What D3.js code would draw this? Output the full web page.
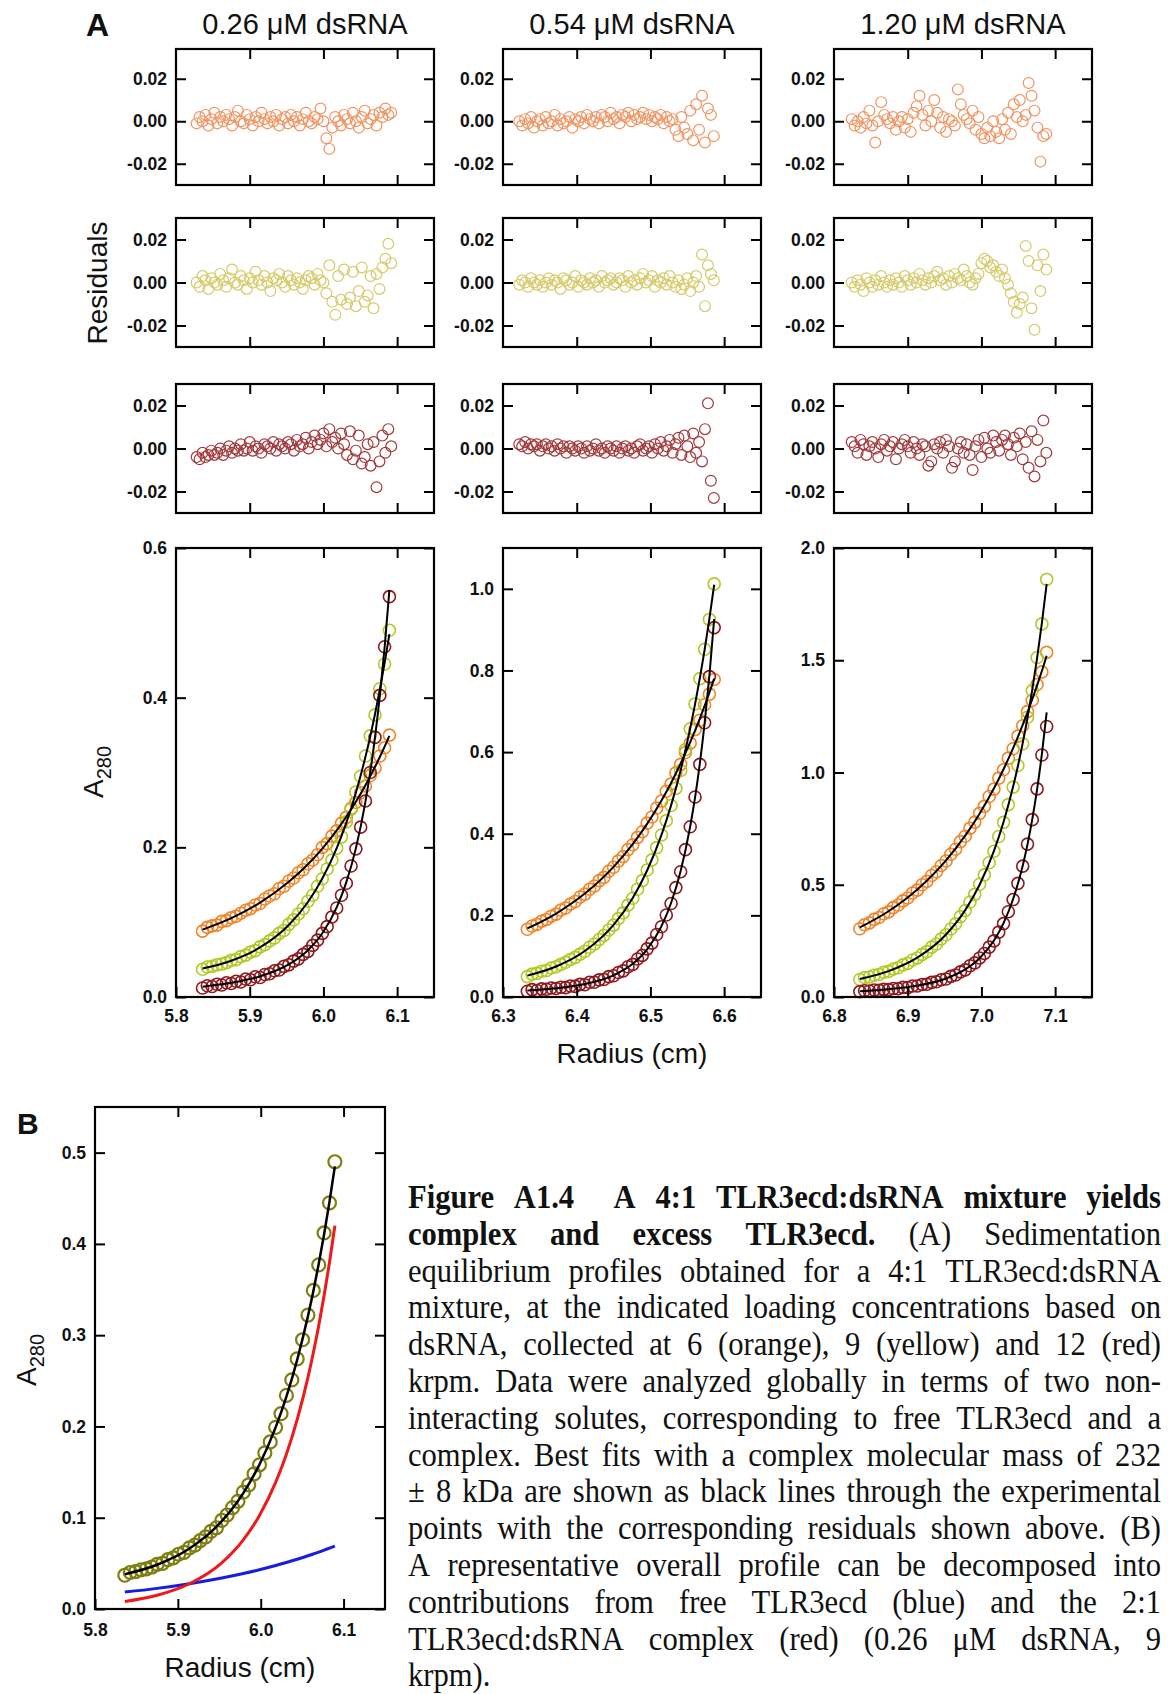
<!DOCTYPE html>
<html>
<head>
<meta charset="utf-8">
<script src="https://cdn.jsdelivr.net/npm/d3@7"></script>
<style>
  body { margin: 0; background: #fff; }
  svg text { font-family: "Liberation Sans", Arial, sans-serif; }
</style>
</head>
<body>
<svg id="fig" width="1169" height="1694"></svg>
<script>
// ── Data ─────────────────────────────────────────────────────────────────────
// Sedimentation equilibrium, 4:1 TLR3ecd:dsRNA. Three loading concentrations,
// three speeds each (6, 9, 12 krpm). Radii are start radius + offset (cm).

const concLabels = ['0.26 \u03bcM dsRNA', '0.54 \u03bcM dsRNA', '1.20 \u03bcM dsRNA'];
const speedNames = ['6 krpm', '9 krpm', '12 krpm'];
const xDomains   = [[5.8, 6.15], [6.3, 6.65], [6.8, 7.15]];
const xLabelTicks = [[5.8, 5.9, 6.0, 6.1], [6.3, 6.4, 6.5, 6.6], [6.8, 6.9, 7.0, 7.1]];
const xInnerTicks = [[5.9, 6.0, 6.1], [6.4, 6.5, 6.6], [6.9, 7.0, 7.1]];
const yMax   = [0.6, 1.1, 2.0];
const yTicks = [[0, 0.2, 0.4, 0.6], [0, 0.2, 0.4, 0.6, 0.8, 1.0], [0, 0.5, 1.0, 1.5, 2.0]];
const residTicks = [-0.02, 0, 0.02];
const residDomains = [[-0.03, 0.034], [-0.03, 0.03], [-0.03, 0.03]];

const profileStart = [5.836, 6.333, 6.835];
const profileOffset = [0, 0.0065, 0.013, 0.0195, 0.026, 0.0325, 0.039, 0.0455, 0.052, 0.0585,
  0.065, 0.0715, 0.078, 0.0845, 0.091, 0.0975, 0.104, 0.1105, 0.117, 0.1235,
  0.13, 0.1365, 0.143, 0.1495, 0.156, 0.1625, 0.169, 0.1755, 0.182, 0.1885,
  0.195, 0.2015, 0.208, 0.2145, 0.221, 0.2275, 0.234, 0.2405, 0.247, 0.2535];
const fitOffset = [0, 0.039, 0.078, 0.117, 0.143, 0.1625, 0.182, 0.195, 0.208, 0.221,
  0.2275, 0.234, 0.2405, 0.247, 0.2535];
const residStart = [5.828, 6.322, 6.824];
const residOffset = [0, .004, .008, .012, .016, .02, .024, .028, .032, .036, .04, .044, .048, .052,
  .056, .06, .064, .068, .072, .076, .08, .084, .088, .092, .096, .1, .104, .108, .112, .116, .12,
  .124, .128, .132, .136, .14, .144, .148, .152, .156, .16, .164, .168, .172, .176, .18, .184, .188,
  .192, .196, .2, .204, .208, .212, .216, .22, .224, .228, .232, .236, .24, .244, .248, .252, .256,
  .26, .264];

// A280 data points
const abs026_6k  = [0.088, 0.093, 0.095, 0.096, 0.101, 0.102, 0.106, 0.108, 0.112, 0.116, 0.118, 0.123, 0.125, 0.131, 0.135, 0.138, 0.145, 0.148, 0.155, 0.159, 0.166, 0.170, 0.178, 0.183, 0.190, 0.200, 0.205, 0.215, 0.222, 0.232, 0.240, 0.252, 0.260, 0.273, 0.282, 0.296, 0.306, 0.322, 0.333, 0.350];
const abs026_9k  = [0.037, 0.040, 0.041, 0.043, 0.044, 0.046, 0.049, 0.050, 0.054, 0.056, 0.060, 0.062, 0.067, 0.070, 0.075, 0.079, 0.085, 0.089, 0.097, 0.103, 0.111, 0.118, 0.128, 0.136, 0.148, 0.158, 0.171, 0.183, 0.199, 0.214, 0.234, 0.251, 0.274, 0.295, 0.322, 0.349, 0.377, 0.412, 0.445, 0.490];
const abs026_12k = [0.012, 0.015, 0.014, 0.017, 0.016, 0.019, 0.018, 0.021, 0.020, 0.024, 0.023, 0.027, 0.026, 0.030, 0.031, 0.035, 0.036, 0.041, 0.043, 0.048, 0.051, 0.057, 0.061, 0.069, 0.076, 0.085, 0.094, 0.107, 0.119, 0.136, 0.152, 0.175, 0.198, 0.227, 0.262, 0.300, 0.347, 0.403, 0.468, 0.535];
const abs054_6k  = [0.166, 0.174, 0.178, 0.186, 0.190, 0.198, 0.203, 0.213, 0.218, 0.228, 0.234, 0.245, 0.252, 0.264, 0.272, 0.285, 0.293, 0.308, 0.318, 0.333, 0.344, 0.361, 0.373, 0.391, 0.405, 0.426, 0.441, 0.463, 0.480, 0.504, 0.522, 0.549, 0.570, 0.599, 0.622, 0.655, 0.678, 0.716, 0.742, 0.778];
const abs054_9k  = [0.050, 0.056, 0.058, 0.063, 0.065, 0.071, 0.074, 0.080, 0.085, 0.092, 0.097, 0.105, 0.112, 0.122, 0.130, 0.141, 0.151, 0.164, 0.176, 0.192, 0.206, 0.225, 0.242, 0.264, 0.285, 0.311, 0.336, 0.366, 0.397, 0.432, 0.469, 0.511, 0.555, 0.606, 0.657, 0.718, 0.780, 0.852, 0.925, 1.012];
const abs054_12k = [0.014, 0.018, 0.016, 0.020, 0.019, 0.022, 0.021, 0.024, 0.023, 0.027, 0.026, 0.031, 0.030, 0.036, 0.036, 0.042, 0.043, 0.050, 0.052, 0.060, 0.064, 0.074, 0.080, 0.093, 0.102, 0.118, 0.132, 0.153, 0.172, 0.201, 0.229, 0.268, 0.307, 0.361, 0.417, 0.490, 0.570, 0.672, 0.785, 0.905];
const abs120_6k  = [0.304, 0.322, 0.330, 0.346, 0.354, 0.371, 0.379, 0.398, 0.410, 0.428, 0.441, 0.463, 0.476, 0.500, 0.515, 0.541, 0.558, 0.586, 0.606, 0.636, 0.658, 0.692, 0.716, 0.752, 0.779, 0.818, 0.849, 0.893, 0.926, 0.975, 1.012, 1.064, 1.106, 1.162, 1.208, 1.271, 1.322, 1.392, 1.448, 1.535];
const abs120_9k  = [0.078, 0.087, 0.089, 0.097, 0.100, 0.110, 0.114, 0.125, 0.130, 0.143, 0.150, 0.165, 0.174, 0.190, 0.202, 0.222, 0.236, 0.259, 0.277, 0.303, 0.326, 0.358, 0.385, 0.423, 0.457, 0.502, 0.544, 0.598, 0.649, 0.715, 0.778, 0.857, 0.935, 1.031, 1.128, 1.246, 1.365, 1.512, 1.662, 1.860];
const abs120_12k = [0.024, 0.028, 0.027, 0.031, 0.030, 0.034, 0.033, 0.038, 0.037, 0.043, 0.042, 0.049, 0.049, 0.056, 0.057, 0.065, 0.068, 0.077, 0.080, 0.092, 0.098, 0.112, 0.121, 0.139, 0.152, 0.174, 0.194, 0.222, 0.250, 0.289, 0.327, 0.380, 0.434, 0.506, 0.583, 0.681, 0.790, 0.927, 1.078, 1.205];

// global fits (black lines), at fitOffset
const fit026_6k  = [0.0900, 0.1054, 0.1261, 0.1539, 0.1774, 0.1984, 0.2226, 0.2408, 0.2610, 0.2831, 0.2950, 0.3076, 0.3207, 0.3345, 0.3490];
const fit026_9k  = [0.0381, 0.0485, 0.0662, 0.0962, 0.1270, 0.1583, 0.1990, 0.2327, 0.2730, 0.3209, 0.3482, 0.3781, 0.4106, 0.4462, 0.4850];
const fit026_12k = [0.0138, 0.0189, 0.0276, 0.0435, 0.0625, 0.0851, 0.1197, 0.1531, 0.1986, 0.2611, 0.3007, 0.3473, 0.4023, 0.4671, 0.5436];
const fit054_6k  = [0.1679, 0.2045, 0.2534, 0.3189, 0.3746, 0.4241, 0.4813, 0.5244, 0.5720, 0.6244, 0.6525, 0.6821, 0.7132, 0.7458, 0.7800];
const fit054_9k  = [0.0523, 0.0747, 0.1127, 0.1768, 0.2428, 0.3099, 0.3971, 0.4695, 0.5557, 0.6585, 0.7170, 0.7809, 0.8506, 0.9268, 1.0100];
const fit054_12k = [0.0161, 0.0216, 0.0318, 0.0532, 0.0813, 0.1168, 0.1737, 0.2303, 0.3088, 0.4184, 0.4885, 0.5718, 0.6704, 0.7873, 0.9260];
const fit120_6k  = [0.3099, 0.3821, 0.4789, 0.6085, 0.7186, 0.8163, 0.9295, 1.0147, 1.1088, 1.2123, 1.2679, 1.3264, 1.3878, 1.4523, 1.5200];
const fit120_9k  = [0.0803, 0.1153, 0.1752, 0.2783, 0.3869, 0.5000, 0.6510, 0.7798, 0.9373, 1.1307, 1.2437, 1.3694, 1.5093, 1.6656, 1.8400];
const fit120_12k = [0.0256, 0.0346, 0.0507, 0.0824, 0.1229, 0.1728, 0.2517, 0.3292, 0.4363, 0.5849, 0.6798, 0.7921, 0.9247, 1.0818, 1.2680];

// panel B components (0.26 uM, 9 krpm), at fitOffset
const bComplex = [0.0083, 0.0151, 0.0277, 0.0506, 0.0758, 0.1025, 0.1387, 0.1696, 0.2075, 0.2537, 0.2807, 0.3105, 0.3434, 0.3797, 0.4200];
const bFree    = [0.0185, 0.0226, 0.0277, 0.0339, 0.0388, 0.0430, 0.0476, 0.0509, 0.0545, 0.0583, 0.0603, 0.0623, 0.0645, 0.0667, 0.0690];

// residuals, in units of 0.001 A280, at residOffset
const res026_6k  = [-1,2,0,3,-2,1,4,-1,2,0, 3,1,-2,2,5,0,-1,3,1,-2, 2,0,4,1,-1,2,0,3,-2,1, 2,-1,3,0,2,-2,1,4,0,-1, 2,1,6,0,-8,-13,-3,2, 0,-2,3,1,-1,4,0,-3,2,5,-1,1,3,-2,4,2,6,3,4];
const res026_9k  = [0,-2,3,1,-3,2,0,-1,4,1, -2,2,6,0,-1,3,1,-3,2,0, 5,1,-1,3,0,-4,2,1,4,0, -2,3,1,-1,2,0,-3,1,3,2, -1,4,1,0, -5,8,-9,-15,3,-8,6,-10,-7,5,-11,-4,7,-9,-6,3,-12,4,-3,7,11,18,9];
const res026_12k = [-4,-5,-2,-4,-3,-1,-3,-2,0,-3, -1,1,-2,0,-1,2,-1,0,3,-1, 1,0,-2,2,1,0,3,-1,2,1, 0,3,2,-1,4,1,2,5,0,3, 6,2,4,7,1,9,3,5,0,7, 2,-3,8,-5,-1,6,-7,-4,2,-8,3,-18,-6,6,-2,9,1];
const res054_6k  = [0,-2,1,-1,2,-3,0,1,-2,2, -1,0,3,-2,1,-1,0,2,-3,1, 0,2,-1,3,1,0,2,-1,3,2, 0,4,1,2,-1,3,2,4,0,3, 1,2,4,1,3,0,2,1,3,-1, 2,0,1,-4,-7,2,-3,-6,5,-9, 8,-4,12,-10,6,3,-7];
const res054_9k  = [-1,1,0,-2,2,0,-1,1,-2,0, 2,-1,1,0,-3,2,1,-1,0,3, -2,1,0,-1,2,0,1,-2,3,0, 1,2,-1,0,2,1,-2,3,0,1, -1,2,4,0,1,3,-2,1,0,2, -1,3,0,-2,1,-3,-1,2,-4,0, 3,-2,13,-11,8,4,1];
const res054_12k = [2,1,3,0,2,1,2,-1,1,2, 0,1,-1,2,0,1,-2,1,0,-1, 1,0,-2,1,-1,0,2,-1,0,-2, 1,0,-1,1,-2,0,1,-1,0,-2, 1,2,-1,0,1,-2,2,0,3,-1, 1,4,-2,2,5,-3,6,1,-4,7, -2,3,-6,9,21,-15,-23];
const res120_6k  = [1,-2,0,-3,2,-1,5,-2,-10,0, 9,3,1,-1,2,-4,0,2,-3,1, -5,4,7,12,3,-2,5,0,10,4, -3,2,-5,1,0,-2,15,8,3,1, -1,5,-4,2,-6,-8,-3,-7,0,-5, -8,1,-4,4,-6,8,2,10,0,3, 18,12,5,-3,-19,-7,-6];
const res120_9k  = [0,-2,1,-1,-4,2,0,-2,1,-1, 3,0,-2,1,-1,2,0,-2,3,1, -1,2,0,4,1,-1, 2,0,3,5,1,2,-1,3,0,4,2,1,6,3,0,-1,2,4, 9,11,10,7,8,5,3,6,2,-1, -5,-9,-14,-10,-7,17,10,-12,-22,8,-4,13,6];
const res120_12k = [3,1,-2,4,2,-3,1,3,0,-4, 2,4,-1,1,3,-5,0,2,4,1, -2,3,0,-3,2,1,-8,-6,2,0, 3,-2,4,1,-9,-6,0,3,-2,2, -3,-10,1,4,-4,5,0,-2,6,3, -1,4,6,2,-3,5,1,7,-5,3, -9,8,-13,4,-6,13,-2];

const captionLines = [
  'Figure A1.4  A 4:1 TLR3ecd:dsRNA mixture yields',
  'complex and excess TLR3ecd. (A) Sedimentation',
  'equilibrium profiles obtained for a 4:1 TLR3ecd:dsRNA',
  'mixture, at the indicated loading concentrations based on',
  'dsRNA, collected at 6 (orange), 9 (yellow) and 12 (red)',
  'krpm. Data were analyzed globally in terms of two non-',
  'interacting solutes, corresponding to free TLR3ecd and a',
  'complex. Best fits with a complex molecular mass of 232',
  '\u00b1 8 kDa are shown as black lines through the experimental',
  'points with the corresponding residuals shown above. (B)',
  'A representative overall profile can be decomposed into',
  'contributions from free TLR3ecd (blue) and the 2:1',
  'TLR3ecd:dsRNA complex (red) (0.26 \u03bcM dsRNA, 9',
  'krpm).'
];
const captionBold = [8, 4, 0, 0, 0, 0, 0, 0, 0, 0, 0, 0, 0, 0];

// ── Styling / layout ────────────────────────────────────────────────────────
const mainColor  = ['#f0862a', '#b3c925', '#8c1a1e'];
const residColor = ['#f09462', '#d6ca6a', '#a23a3c'];
const colX = [176, 503, 834], plotW = 258;
const residTop = [49, 218, 384], residBottom = [185, 347, 513];
const mainTop = 548, mainH = 449;

const cols = [
  { abs: [abs026_6k, abs026_9k, abs026_12k], fit: [fit026_6k, fit026_9k, fit026_12k], res: [res026_6k, res026_9k, res026_12k] },
  { abs: [abs054_6k, abs054_9k, abs054_12k], fit: [fit054_6k, fit054_9k, fit054_12k], res: [res054_6k, res054_9k, res054_12k] },
  { abs: [abs120_6k, abs120_9k, abs120_12k], fit: [fit120_6k, fit120_9k, fit120_12k], res: [res120_6k, res120_9k, res120_12k] }
];

const svg = d3.select('#fig');

// box with inward ticks on all four sides
function drawFrame(g, x, y, o) {
  const [x0, x1] = x.range(), [y0, y1] = y.range();
  const axes = g.append('g');
  axes.append('g').attr('transform', `translate(${x0},0)`)
    .call(d3.axisLeft(y).tickValues(o.yTicks).tickSizeInner(-10).tickSizeOuter(0)
      .tickPadding(9).tickFormat(o.yFmt));
  axes.append('g').attr('transform', `translate(${x1},0)`)
    .call(d3.axisRight(y).tickValues(o.yTicks).tickSizeInner(-10).tickSizeOuter(0).tickFormat(''));
  axes.append('g').attr('transform', `translate(0,${y1})`)
    .call(d3.axisTop(x).tickValues(o.xInner).tickSizeInner(-10).tickSizeOuter(0).tickFormat(''));
  axes.append('g').attr('transform', `translate(0,${y0})`)
    .call(d3.axisBottom(x).tickValues(o.xLabels || o.xInner).tickSizeInner(-10).tickSizeOuter(0)
      .tickPadding(o.xPad || 13).tickFormat(o.xFmt || ''));
  axes.selectAll('.domain').remove();
  axes.selectAll('.tick line').attr('stroke', '#000').attr('stroke-width', 2);
  axes.selectAll('g').attr('font-size', 17.5).attr('font-weight', 'bold')
    .attr('font-family', '"Liberation Sans", Arial, sans-serif');
  axes.selectAll('.tick text').attr('fill', '#111');
  g.append('rect')
    .attr('x', x0).attr('y', y1).attr('width', x1 - x0).attr('height', y0 - y1)
    .attr('fill', 'none').attr('stroke', '#000').attr('stroke-width', 2.2);
}

function circles(g, pts, x, y, color, r, sw) {
  g.append('g').selectAll('circle').data(pts).join('circle')
    .attr('cx', d => x(d.r)).attr('cy', d => y(d.v)).attr('r', r)
    .attr('fill', 'none').attr('stroke', color).attr('stroke-width', sw);
}

function fitLine(g, pts, x, y, color, w) {
  g.append('path').datum(pts)
    .attr('d', d3.line().x(d => x(d.r)).y(d => y(d.v)).curve(d3.curveMonotoneX))
    .attr('fill', 'none').attr('stroke', color).attr('stroke-width', w);
}

const fmt1 = d => d.toFixed(1);
const fmt2 = d => d.toFixed(2);

// ── Panel A ───────────────────────────────────────────────────────────────
cols.forEach((col, c) => {
  const x = d3.scaleLinear().domain(xDomains[c]).range([colX[c], colX[c] + plotW]);

  svg.append('text')
    .attr('x', colX[c] + plotW / 2).attr('y', 34)
    .attr('text-anchor', 'middle').attr('font-size', 29).attr('fill', '#111')
    .text(concLabels[c]);

  // residual rows, one per speed
  col.res.forEach((res, s) => {
    const y = d3.scaleLinear().domain(residDomains[s]).range([residBottom[s], residTop[s]]);
    const g = svg.append('g').attr('class', 'resid ' + speedNames[s]);
    const pts = res.map((v, i) => ({ r: residStart[c] + residOffset[i], v: v / 1000 }));
    circles(g, pts, x, y, residColor[s], 5.4, 1.2);
    drawFrame(g, x, y, { yTicks: residTicks, yFmt: fmt2, xInner: xInnerTicks[c] });
  });

  // overall profiles
  const y = d3.scaleLinear().domain([0, yMax[c]]).range([mainTop + mainH, mainTop]);
  const g = svg.append('g').attr('class', 'profile');
  col.abs.forEach((vals, s) => {
    const pts = vals.map((v, i) => ({ r: profileStart[c] + profileOffset[i], v }));
    circles(g, pts, x, y, mainColor[s], 6, 1.6);
  });
  col.fit.forEach(vals => {
    const pts = vals.map((v, i) => ({ r: profileStart[c] + fitOffset[i], v }));
    fitLine(g, pts, x, y, '#000', 2);
  });
  drawFrame(g, x, y, {
    yTicks: yTicks[c], yFmt: fmt1, xInner: xInnerTicks[c],
    xLabels: xLabelTicks[c], xFmt: fmt1, xPad: 13
  });
});

svg.append('text').attr('x', 86).attr('y', 36)
  .attr('font-size', 32).attr('font-weight', 'bold').attr('fill', '#111').text('A');

svg.append('text').attr('transform', 'translate(107,283) rotate(-90)')
  .attr('text-anchor', 'middle').attr('font-size', 28).attr('fill', '#111').text('Residuals');

function a280Label(tx, ty) {
  const t = svg.append('text').attr('transform', `translate(${tx},${ty}) rotate(-90)`)
    .attr('text-anchor', 'middle').attr('font-size', 28).attr('fill', '#111');
  t.append('tspan').text('A');
  t.append('tspan').attr('font-size', 20).attr('dy', 8).text('280');
}
a280Label(103, 772);

svg.append('text').attr('x', colX[1] + plotW / 2).attr('y', 1063)
  .attr('text-anchor', 'middle').attr('font-size', 28).attr('fill', '#111').text('Radius (cm)');

// ── Panel B ───────────────────────────────────────────────────────────────
{
  const x = d3.scaleLinear().domain([5.8, 6.15]).range([95, 385]);
  const y = d3.scaleLinear().domain([0, 0.55]).range([1609, 1107]);
  const g = svg.append('g').attr('class', 'panel-b');
  const atFit = arr => arr.map((v, i) => ({ r: profileStart[0] + fitOffset[i], v }));
  fitLine(g, atFit(bFree), x, y, '#1a1ae0', 3);
  fitLine(g, atFit(bComplex), x, y, '#ec1a1a', 3);
  circles(g, abs026_9k.map((v, i) => ({ r: profileStart[0] + profileOffset[i], v })), x, y, '#7f7f10', 6.5, 2.2);
  fitLine(g, atFit(fit026_9k), x, y, '#000', 2.5);
  drawFrame(g, x, y, {
    yTicks: [0, 0.1, 0.2, 0.3, 0.4, 0.5], yFmt: fmt1,
    xInner: [5.9, 6.0, 6.1], xLabels: [5.8, 5.9, 6.0, 6.1], xFmt: fmt1, xPad: 15
  });

  svg.append('text').attr('x', 17).attr('y', 1134)
    .attr('font-size', 30).attr('font-weight', 'bold').attr('fill', '#111').text('B');
  a280Label(36, 1360);
  svg.append('text').attr('x', 240).attr('y', 1677)
    .attr('text-anchor', 'middle').attr('font-size', 28).attr('fill', '#111').text('Radius (cm)');
}

// ── Caption (justified lines, slightly condensed serif) ─────────────────────
{
  const capX = 408, capW = 753, capY = 1208, lead = 36.8, squeeze = 0.9;
  const cap = svg.append('g').attr('class', 'caption').attr('fill', '#111');
  captionLines.forEach((line, li) => {
    const words = line.split(' ');
    const lg = cap.append('g')
      .attr('transform', `translate(${capX},${capY + li * lead}) scale(${squeeze},1)`);
    const nodes = words.map((w, wi) => lg.append('text')
      .style('font-family', '"Liberation Serif", "Times New Roman", serif')
      .attr('font-size', 34)
      .attr('font-weight', wi < captionBold[li] ? 'bold' : 'normal')
      .text(w));
    const widths = nodes.map(n => n.node().getComputedTextLength());
    const isLast = li === captionLines.length - 1;
    const gap = isLast ? 9 : (capW / squeeze - d3.sum(widths)) / (words.length - 1);
    let pos = 0;
    nodes.forEach((n, i) => { n.attr('x', pos); pos += widths[i] + gap; });
  });
}
</script>
</body>
</html>
